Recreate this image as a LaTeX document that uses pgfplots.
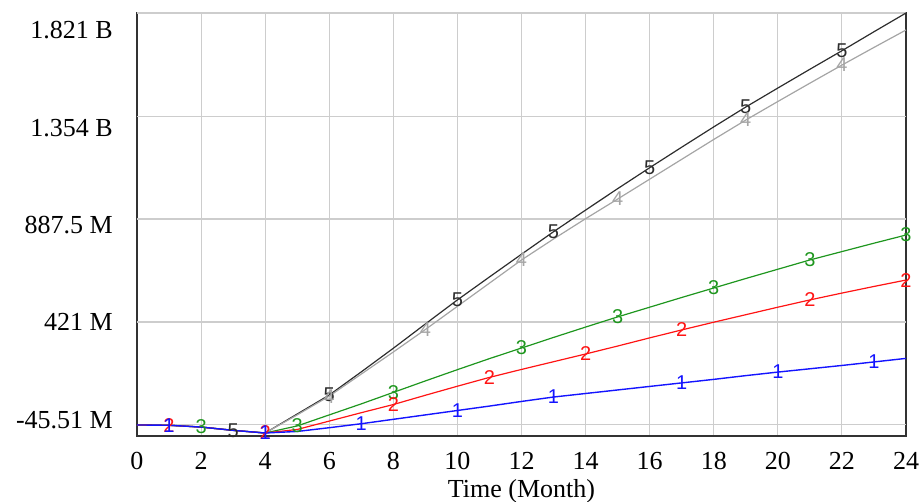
\documentclass[border=0pt]{standalone}
\usepackage{pgfplots}
\pgfplotsset{compat=1.18}
\usepackage{pgfplotstable}
\usepackage{fontspec}
\setmainfont{Liberation Serif}
\newfontfamily\markfont{Liberation Sans}

\definecolor{sOne}{RGB}{20,20,255}
\definecolor{sTwo}{RGB}{255,20,20}
\definecolor{sThree}{RGB}{30,150,30}
\definecolor{sFour}{RGB}{165,165,165}
\definecolor{sFive}{RGB}{45,45,45}
\definecolor{gridc}{RGB}{205,205,205}
\definecolor{framec}{RGB}{50,50,50}

% values in millions
\pgfplotstableread{
t   s1      s2      s3      s4      s5
0   -45.51  -45.51  -45.51  -45.51  -45.51
1   -47     -47     -47     -47     -47
2   -55     -55     -55     -55     -55
3   -70     -70     -70     -70     -70
4   -82     -82     -82     -82     -82
5   -75     -66     -50     0       4
6   -58     -28     0       85      90
7   -40     10      50      185     195
8   -20     47      102     285     302
9   0       89      154     387     412
10  20      130     205     492     521
11  40      170     255     597     625
12  61      206     303     702     728
13  81      241     351     797     830
14  97      276     398     889     928
15  113     312     444     978     1025
16  129     349     488     1068    1120
17  145     385     532     1158    1213
18  161     420     575     1248    1305
19  178     454     618     1336    1395
20  194     488     660     1420    1481
21  209     521     702     1503    1566
22  224     552     740     1585    1650
23  240     582     778     1665    1736
24  256     611     815     1744    1821
}\datatable

\begin{document}
\begin{tikzpicture}
\useasboundingbox (-137pt,-65pt) rectangle (784pt,436pt);
\begin{axis}[
  at={(0pt,0pt)}, anchor=south west,
  scale only axis, width=769pt, height=423pt,
  xmin=0, xmax=24, ymin=-95.6, ymax=1821,
  xtick={0,2,...,24},
  ytick={-23,421,860,1300,1744},
  yticklabels={-45.51 M,421 M,887.5 M,1.354 B,1.821 B},
  major tick length=0pt,
  xmajorgrids=true, ymajorgrids=false,
  extra y ticks={-45.51,421,887.5,1354,1821},
  extra y tick labels={},
  extra y tick style={grid=major, major tick length=0pt},
  grid style={draw=gridc, line width=1.1pt},
  axis line style={draw=framec, line width=1.3pt},
  axis on top=false,
  /pgf/number format/assume math mode=true,
  tick label style={font=\fontsize{26}{26}\selectfont, text=black},
  xticklabel style={anchor=north, inner sep=0pt, yshift=-16pt},
  yticklabel style={anchor=east, inner sep=0pt, xshift=-24pt},
  xlabel={Time (Month)},
  xlabel style={at={(axis description cs:0.5,0)}, anchor=base, inner sep=0pt, yshift=-61pt, font=\fontsize{26}{26}\selectfont},
  every node near coord/.style={anchor=center, inner sep=0pt, font=\markfont\fontsize{20}{20}\selectfont},
]
\addplot[sFive, line width=1.2pt] table[x=t, y=s5] {\datatable};
\addplot[sFour, line width=1.2pt] table[x=t, y=s4] {\datatable};
\addplot[sThree, line width=1.2pt] table[x=t, y=s3] {\datatable};
\addplot[sTwo, line width=1.2pt] table[x=t, y=s2] {\datatable};
\addplot[sOne, line width=1.4pt] table[x=t, y=s1] {\datatable};

% number markers along the curves
\addplot[draw=none, nodes near coords={5}, every node near coord/.append style={text=sFive}] coordinates {(3,-70) (6,90) (10,521) (13,830) (16,1120) (19,1395) (22,1650)};
\addplot[draw=none, nodes near coords={4}, every node near coord/.append style={text=sFour}] coordinates {(6,85) (9,387) (12,702) (15,978) (19,1336) (22,1585)};
\addplot[draw=none, nodes near coords={3}, every node near coord/.append style={text=sThree}] coordinates {(2,-55) (5,-50) (8,102) (12,303) (15,444) (18,575) (21,702) (24,815)};
\addplot[draw=none, nodes near coords={2}, every node near coord/.append style={text=sTwo}] coordinates {(1,-47) (4,-82) (8,47) (11,170) (14,276) (17,385) (21,521) (24,611)};
\addplot[draw=none, nodes near coords={1}, every node near coord/.append style={text=sOne}] coordinates {(1,-47) (4,-82) (7,-40) (10,20) (13,81) (17,145) (20,194) (23,240)};
\end{axis}
\end{tikzpicture}
\end{document}
